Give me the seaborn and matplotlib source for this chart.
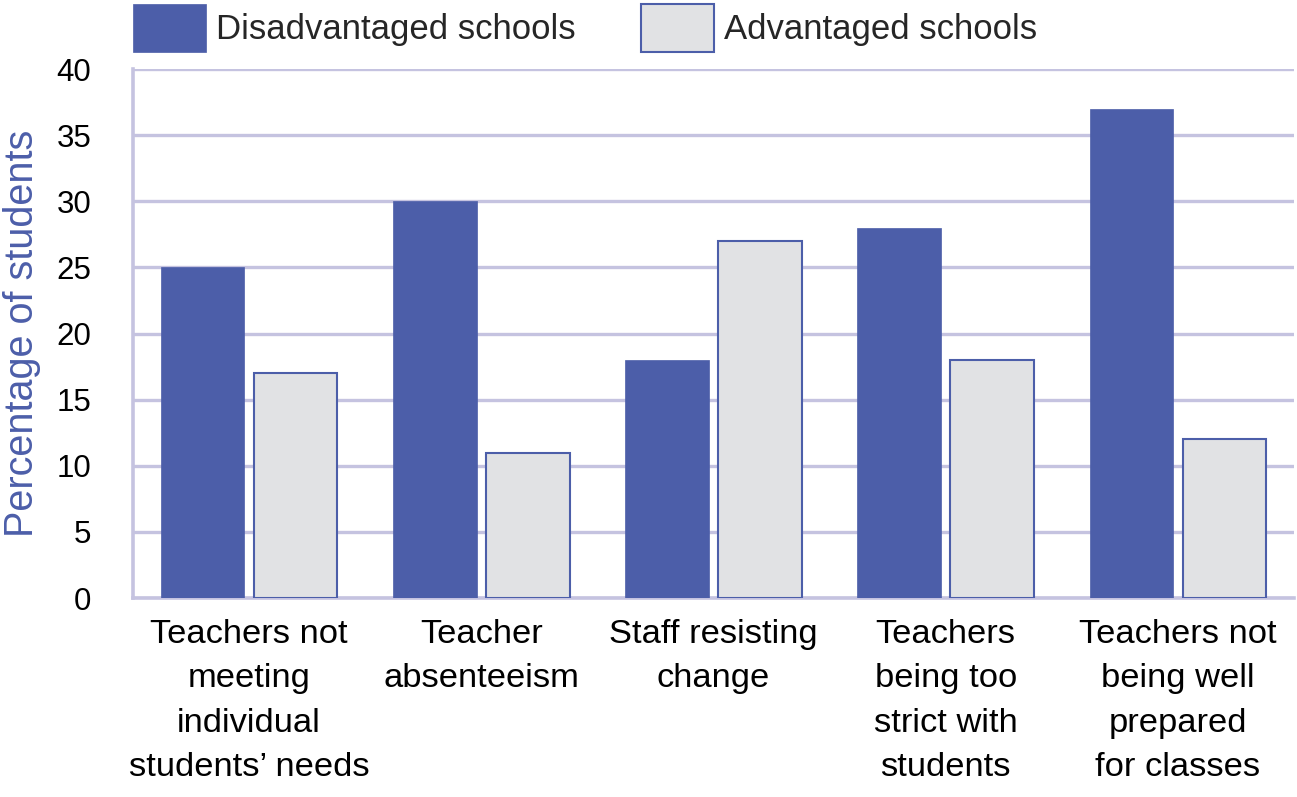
import matplotlib
matplotlib.use("Agg")
import matplotlib.pyplot as plt
import seaborn as sns
import pandas as pd
from matplotlib.ticker import FixedLocator
from matplotlib.patches import Patch

categories = [
    "Teachers not\nmeeting\nindividual\nstudents\u2019 needs",
    "Teacher\nabsenteeism",
    "Staff resisting\nchange",
    "Teachers\nbeing too\nstrict with\nstudents",
    "Teachers not\nbeing well\nprepared\nfor classes",
]
series_names = ["Disadvantaged schools", "Advantaged schools"]
disadvantaged = [25, 30, 18, 28, 37]
advantaged = [17, 11, 27, 18, 12]
yticks = [0, 5, 10, 15, 20, 25, 30, 35, 40]

DARK = "#4C5EA9"
LIGHT = "#E1E2E4"
GRID = "#C5C3E0"

df = pd.DataFrame({
    "category": categories * 2,
    "series": [series_names[0]] * len(categories) + [series_names[1]] * len(categories),
    "value": disadvantaged + advantaged,
})

sns.set_theme(style="white")
plt.rcParams["font.family"] = ["Liberation Sans", "DejaVu Sans"]

fig = plt.figure(figsize=(12.97, 7.97), dpi=100)
ax = fig.add_axes([133 / 1297, 1 - 598 / 797, (1294 - 133) / 1297, (598 - 69) / 797])

sns.barplot(data=df, x="category", y="value", hue="series", order=categories,
            hue_order=series_names, palette=[DARK, LIGHT], width=0.8, gap=0.1,
            saturation=1, ax=ax, zorder=3, legend=False)

for bar in ax.patches[len(categories):2 * len(categories)]:
    bar.set_edgecolor(DARK)
    bar.set_linewidth(1.5)
for bar in ax.patches[:len(categories)]:
    bar.set_edgecolor(DARK)
    bar.set_linewidth(0.5)

ax.set_xlim(-0.5, len(categories) - 0.5)
ax.set_ylim(0, 40)
ax.set_yticks(yticks)
ax.set_yticklabels([str(t) for t in yticks], fontsize=22.5, color="black")
ax.tick_params(axis="y", length=0, pad=30)
ax.tick_params(axis="x", which="major", length=0, pad=15, labelsize=24.8, colors="black")
ax.xaxis.set_minor_locator(FixedLocator([i + 0.5 for i in range(len(categories))]))
ax.tick_params(axis="x", which="minor", direction="in", length=10, width=2.2, color=GRID)
for lab in ax.get_xticklabels():
    lab.set_linespacing(1.56)

ax.yaxis.grid(True, color=GRID, linewidth=2.4, zorder=0)
ax.set_axisbelow(True)
for s in ["top", "right"]:
    ax.spines[s].set_visible(False)
for s in ["left", "bottom"]:
    ax.spines[s].set_color(GRID)
    ax.spines[s].set_linewidth(2.6)

ax.set_xlabel("")
ax.set_ylabel("Percentage of students", fontsize=28.5, color=DARK, labelpad=11)

handles = [Patch(facecolor=DARK, edgecolor=DARK, linewidth=0.5),
           Patch(facecolor=LIGHT, edgecolor=DARK, linewidth=1.5)]
fig.legend(handles, series_names, loc="center left", bbox_to_anchor=(133 / 1297, 1 - 28 / 797),
           ncol=2, frameon=False, fontsize=25, handlelength=2.1, handleheight=1.75,
           handletextpad=0.28, columnspacing=1.9, borderpad=0, borderaxespad=0)

fig.savefig("out.png", dpi=100)
